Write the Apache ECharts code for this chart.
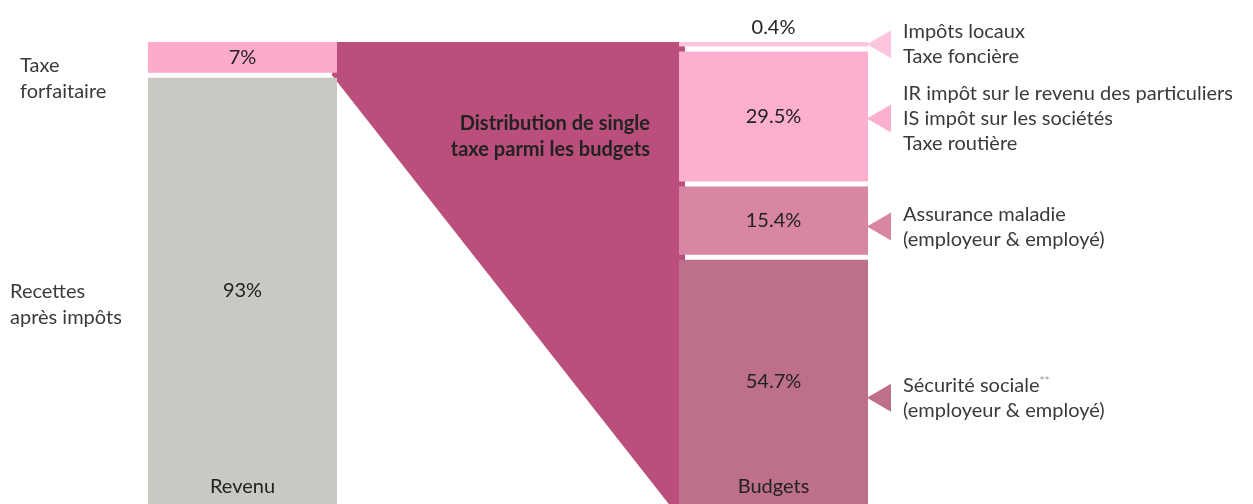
<!DOCTYPE html>
<html>
<head>
<meta charset="utf-8">
<script src="https://cdn.jsdelivr.net/npm/echarts@6/dist/echarts.min.js"></script>
<style>
  html, body { margin: 0; padding: 0; background: #fff; }
  #chart { width: 1253px; height: 504px; }
</style>
</head>
<body>
<div id="chart"></div>
<script>
  // données
  const categories = ['Revenu', '', 'Budgets'];
  const revenuValues = [7, 93];
  const revenuNames = ['Taxe\nforfaitaire', 'Recettes\naprès impôts'];
  const budgetValues = [0.4, 29.5, 15.4, 54.7];
  const budgetNames = [
    'Impôts locaux\nTaxe foncière',
    'IR impôt sur le revenu des particuliers\nIS impôt sur les sociétés\nTaxe routière',
    'Assurance maladie\n(employeur & employé)',
    'Sécurité sociale{s|**}\n(employeur & employé)'
  ];
  const funnelTitle = 'Distribution de single\ntaxe parmi les budgets';

  // styles
  const revenuColors = ['#fdaacb', '#c8c9c3'];
  const budgetColors = ['#fdc6de', '#fdafcf', '#d886a4', '#be6f8c'];
  const funnelColor = '#ba4f7b';
  const FONT = 'Lato, "Noto Sans", sans-serif';
  const FS = 20;
  const BAR_W = 189;
  const GAP = 5;
  const leftNameX = [20, 10];
  const leftOffsets = [21, 14];
  const rightOffsets = [0, 2, 6, 16];

  function stackItems(catIdx, values) {
    let acc = 0;
    return values.map(function (v, i) {
      const item = [catIdx, acc, acc + v, i];
      acc += v;
      return item;
    });
  }

  function segmentRenderer(values, colors, names, side) {
    let lastBottom = 0;
    return function (params, api) {
      const cat = api.value(0), start = api.value(1), end = api.value(2), i = api.value(3);
      const top = api.coord([cat, start]);
      const bot = api.coord([cat, end]);
      const x = top[0] - BAR_W / 2;
      let y0 = top[1];
      if (i > 0) y0 = Math.max(y0 + GAP / 2, lastBottom + GAP);
      let y1 = Math.max(bot[1] - GAP / 2, y0 + 4.5);
      y1 = Math.min(y1, api.getHeight());
      lastBottom = y1;
      const cy = (y0 + y1) / 2;
      const outside = side === 'right' && i === 0;
      const children = [{
        type: 'rect',
        shape: { x: x, y: y0, width: BAR_W, height: y1 - y0 },
        style: { fill: colors[i] },
        textContent: {
          style: { text: values[i] + '%', fill: '#222', font: FS + 'px ' + FONT }
        },
        textConfig: { position: outside ? 'top' : 'inside', distance: 4 }
      }];
      if (side === 'right') {
        const ty = cy + rightOffsets[i];
        children.push({
          type: 'polygon',
          shape: { points: [[x + BAR_W - 1, ty], [x + BAR_W + 23, ty - 14], [x + BAR_W + 23, ty + 14]] },
          style: { fill: colors[i] }
        });
        children.push({
          type: 'text',
          style: {
            x: x + BAR_W + 35, y: ty, text: names[i], align: 'left', verticalAlign: 'middle',
            font: FS + 'px ' + FONT, lineHeight: 25, fill: '#3a3a3a',
            rich: { s: { fontSize: 12, fill: '#999', padding: [0, 0, 8, 0], fontFamily: FONT } }
          }
        });
      } else {
        children.push({
          type: 'text',
          style: {
            x: leftNameX[i], y: cy + leftOffsets[i], text: names[i], align: 'left', verticalAlign: 'middle',
            font: FS + 'px ' + FONT, lineHeight: 26, fill: '#3a3a3a'
          }
        });
      }
      return { type: 'group', children: children };
    };
  }

  function funnelRenderer(params, api) {
    const total = budgetValues.reduce(function (a, b) { return a + b; }, 0);
    const a = api.coord([0, 0]), b = api.coord([0, revenuValues[0]]);
    const c = api.coord([2, 0]), d = api.coord([2, total]);
    const lx = a[0] + BAR_W / 2, rx = c[0] - BAR_W / 2;
    return {
      type: 'group',
      children: [
        {
          type: 'polygon',
          shape: { points: [[lx, a[1]], [rx + 6, c[1]], [rx + 6, d[1]], [rx, d[1]], [lx - 5, b[1]]] },
          style: { fill: funnelColor }
        },
        {
          type: 'text',
          style: {
            x: rx - 29, y: api.coord([2, 20])[1], text: funnelTitle, align: 'right', verticalAlign: 'middle',
            font: 'bold ' + FS + 'px ' + FONT, lineHeight: 26, fill: '#222'
          }
        }
      ]
    };
  }

  const option = {
    animation: false,
    grid: { left: 109.75, width: 796.5, top: 42, height: 475, outerBoundsMode: 'none' },
    xAxis: {
      type: 'category',
      data: categories,
      z: 10,
      axisLine: { show: false },
      axisTick: { show: false },
      splitLine: { show: false },
      axisLabel: { inside: true, margin: 20, fontSize: FS, color: '#222', fontFamily: FONT }
    },
    yAxis: {
      type: 'value',
      inverse: true,
      min: 0,
      max: 100,
      show: false
    },
    series: [
      {
        type: 'custom',
        name: 'funnel',
        z: 1,
        renderItem: funnelRenderer,
        data: [[1, 50]]
      },
      {
        type: 'custom',
        name: 'Revenu',
        z: 2,
        renderItem: segmentRenderer(revenuValues, revenuColors, revenuNames, 'left'),
        encode: { x: 0, y: 2 },
        data: stackItems(0, revenuValues)
      },
      {
        type: 'custom',
        name: 'Budgets',
        z: 2,
        renderItem: segmentRenderer(budgetValues, budgetColors, budgetNames, 'right'),
        encode: { x: 0, y: 2 },
        data: stackItems(2, budgetValues)
      }
    ]
  };

  const chartObj = echarts.init(document.getElementById('chart'));
  chartObj.setOption(option);
</script>
</body>
</html>
